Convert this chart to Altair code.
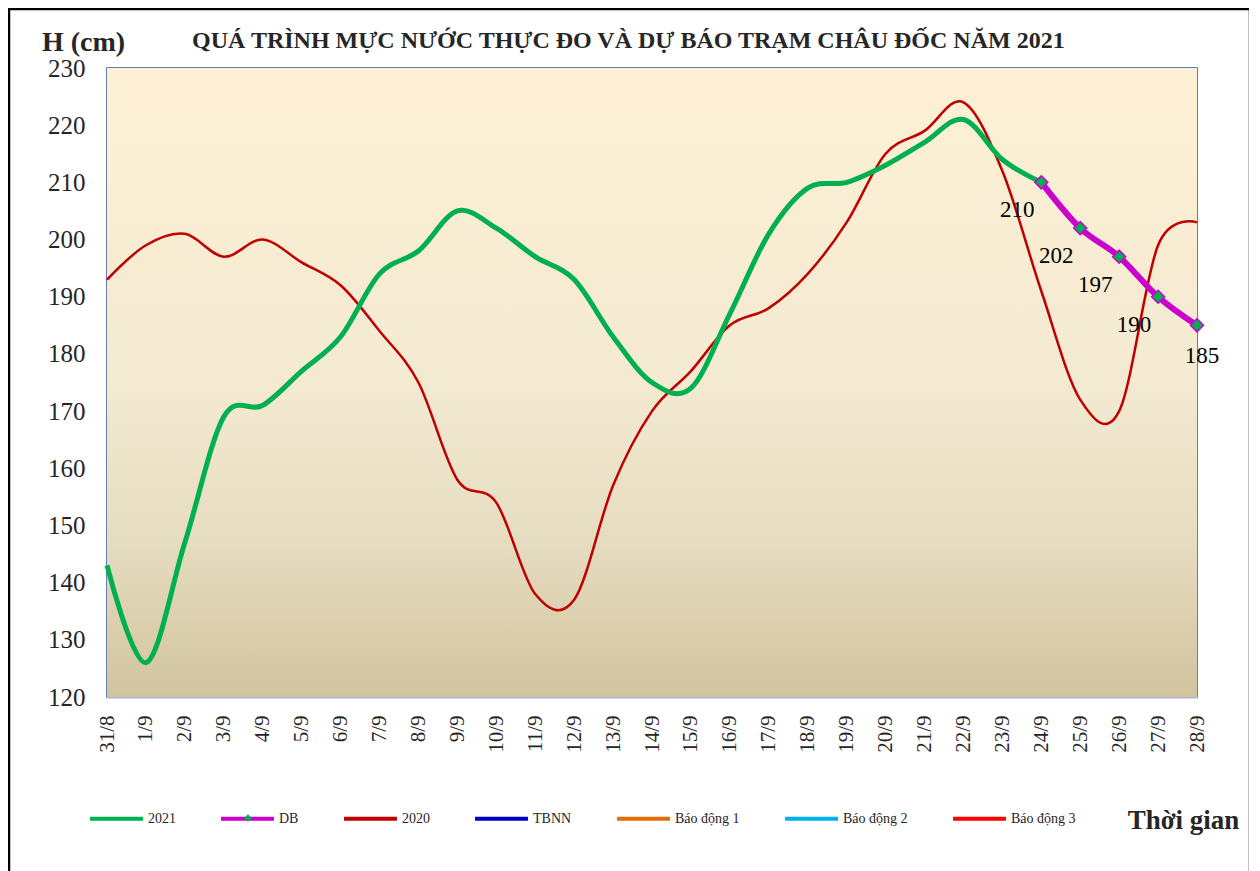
import altair as alt
import pandas as pd

dates = ["31/8", "1/9", "2/9", "3/9", "4/9", "5/9", "6/9", "7/9", "8/9", "9/9",
         "10/9", "11/9", "12/9", "13/9", "14/9", "15/9", "16/9", "17/9", "18/9",
         "19/9", "20/9", "21/9", "22/9", "23/9", "24/9", "25/9", "26/9", "27/9", "28/9"]

h2021 = [143, 126, 147, 169, 171, 177, 183, 194, 198, 205, 202, 197, 193, 183,
         175, 174, 187, 201, 209, 210, 213, 217, 221, 214, 210]

db_dates = ["24/9", "25/9", "26/9", "27/9", "28/9"]
db_vals = [210, 202, 197, 190, 185]

h2020 = [193, 199, 201, 197, 200, 196, 192, 184, 175, 158, 154, 138, 137, 157,
         170, 177, 185, 188, 194, 203, 215, 219, 224, 212, 191, 172, 170, 199, 203]

series_names = ["2021", "DB", "2020", "TBNN", "Báo động 1", "Báo động 2", "Báo động 3"]
series_colors = ["#00B050", "#CC00CC", "#C00000", "#0000C0", "#E36C09", "#00B0F0", "#FF0000"]
y_ticks = [120, 130, 140, 150, 160, 170, 180, 190, 200, 210, 220, 230]

W, H = 1090, 629
FONT = "Liberation Serif"

df21 = pd.DataFrame({"date": dates[:len(h2021)], "h": h2021, "series": "2021"})
dfdb = pd.DataFrame({"date": db_dates, "h": db_vals, "series": "DB", "mk": "DB"})
df20 = pd.DataFrame({"date": dates, "h": h2020, "series": "2020"})

x_enc = alt.X("date:N", sort=dates,
              scale=alt.Scale(type="point", padding=0),
              axis=alt.Axis(title="Thời gian", labelAngle=-90, labelFontSize=21,
                            labelFont=FONT, labelColor="#262626", labelPadding=18,
                            ticks=False, domainColor="#A9B8CC", domainWidth=2,
                            titleFont=FONT, titleFontSize=27, titleFontWeight="bold",
                            titleColor="#262626", titleX=1076, titleY=131,
                            titleAlign="center", titleBaseline="alphabetic"))
y_enc = alt.Y("h:Q", scale=alt.Scale(domain=[120, 230], nice=False, zero=False),
              axis=alt.Axis(title="H (cm)", values=y_ticks, labelFontSize=25,
                            labelFont=FONT, labelColor="#262626", labelPadding=22,
                            ticks=False, domain=False, grid=False,
                            titleFont=FONT, titleFontSize=28, titleFontWeight="bold",
                            titleColor="#262626", titleAngle=0, titleX=-24, titleY=-18,
                            titleAlign="center", titleBaseline="alphabetic"))
color_enc = alt.Color("series:N",
                      scale=alt.Scale(domain=series_names, range=series_colors),
                      legend=alt.Legend(title=None, orient="none", legendX=-19, legendY=722,
                                        direction="horizontal", columns=7,
                                        symbolType="stroke", symbolSize=2800,
                                        symbolStrokeWidth=4, labelFont=FONT,
                                        labelFontSize=14, labelColor="#262626",
                                        labelOffset=3, columnPadding=37,
                                        labelLimit=200))
shape_enc = alt.Shape("mk:N", scale=alt.Scale(domain=["DB"], range=["diamond"]),
                      legend=alt.Legend(title=None, orient="none", legendX=134, legendY=743,
                                        labelExpr="''", symbolFillColor="#00B050",
                                        symbolStrokeColor="#CC00CC", symbolStrokeWidth=1.5,
                                        symbolSize=60, symbolOpacity=1,
                                        labelFontSize=14, labelOffset=0))

bg = alt.Chart(pd.DataFrame({"a": [0]})).mark_rect(
    fill=alt.Gradient(gradient="linear", x1=0, x2=0, y1=0, y2=1,
                      stops=[alt.GradientStop(color="#FDF0D4", offset=0),
                             alt.GradientStop(color="#F4EAD2", offset=0.5),
                             alt.GradientStop(color="#E6DCC0", offset=0.75),
                             alt.GradientStop(color="#D2C49F", offset=1)])
).encode(x=alt.value(0), x2=alt.value(W), y=alt.value(0), y2=alt.value(H))

frame = alt.Chart(pd.DataFrame({"a": [0]})).mark_rect(
    fillOpacity=0, stroke="#000000", strokeWidth=2.5
).encode(x=alt.value(-98), x2=alt.value(1143), y=alt.value(-59), y2=alt.value(840))

line20 = alt.Chart(df20).mark_line(interpolate="cardinal", strokeWidth=2.5).encode(
    x=x_enc, y=y_enc, color=color_enc)
line21 = alt.Chart(df21).mark_line(interpolate="cardinal", strokeWidth=5).encode(
    x=x_enc, y=y_enc, color=color_enc)
linedb = alt.Chart(dfdb).mark_line(interpolate="cardinal", strokeWidth=6).encode(
    x=x_enc, y=y_enc, color=color_enc)
ptsdb = alt.Chart(dfdb).mark_point(filled=True, fill="#00B050",
                                   stroke="#CC00CC", strokeWidth=1.5, size=170,
                                   opacity=1).encode(x=x_enc, y=y_enc, shape=shape_enc)
lab1 = alt.Chart(dfdb.iloc[:4]).mark_text(font=FONT, fontSize=23, color="#000000",
                                          dx=-24, dy=28).encode(
    x=x_enc, y=y_enc, text="h:Q")
lab2 = alt.Chart(dfdb.iloc[4:]).mark_text(font=FONT, fontSize=23, color="#000000",
                                          dx=5, dy=31).encode(
    x=x_enc, y=y_enc, text="h:Q")

chart = alt.layer(bg, frame, line20, line21, linedb, ptsdb, lab1, lab2).properties(
    width=W, height=H,
    title=alt.TitleParams("QUÁ TRÌNH MỰC NƯỚC THỰC ĐO VÀ DỰ BÁO TRẠM CHÂU ĐỐC NĂM  2021",
                          anchor="start", frame="group", dx=85, offset=-64,
                          baseline="alphabetic", font=FONT, fontSize=24,
                          fontWeight="bold", color="#262626"),
    autosize=alt.AutoSizeParams(type="none"),
    padding={"left": 99, "top": 60, "right": 52, "bottom": 180},
).configure_view(stroke="#2E5597", strokeWidth=1.5).configure_axis(grid=False)

chart.save("out.html", embed_options={"renderer": "svg", "actions": False})
